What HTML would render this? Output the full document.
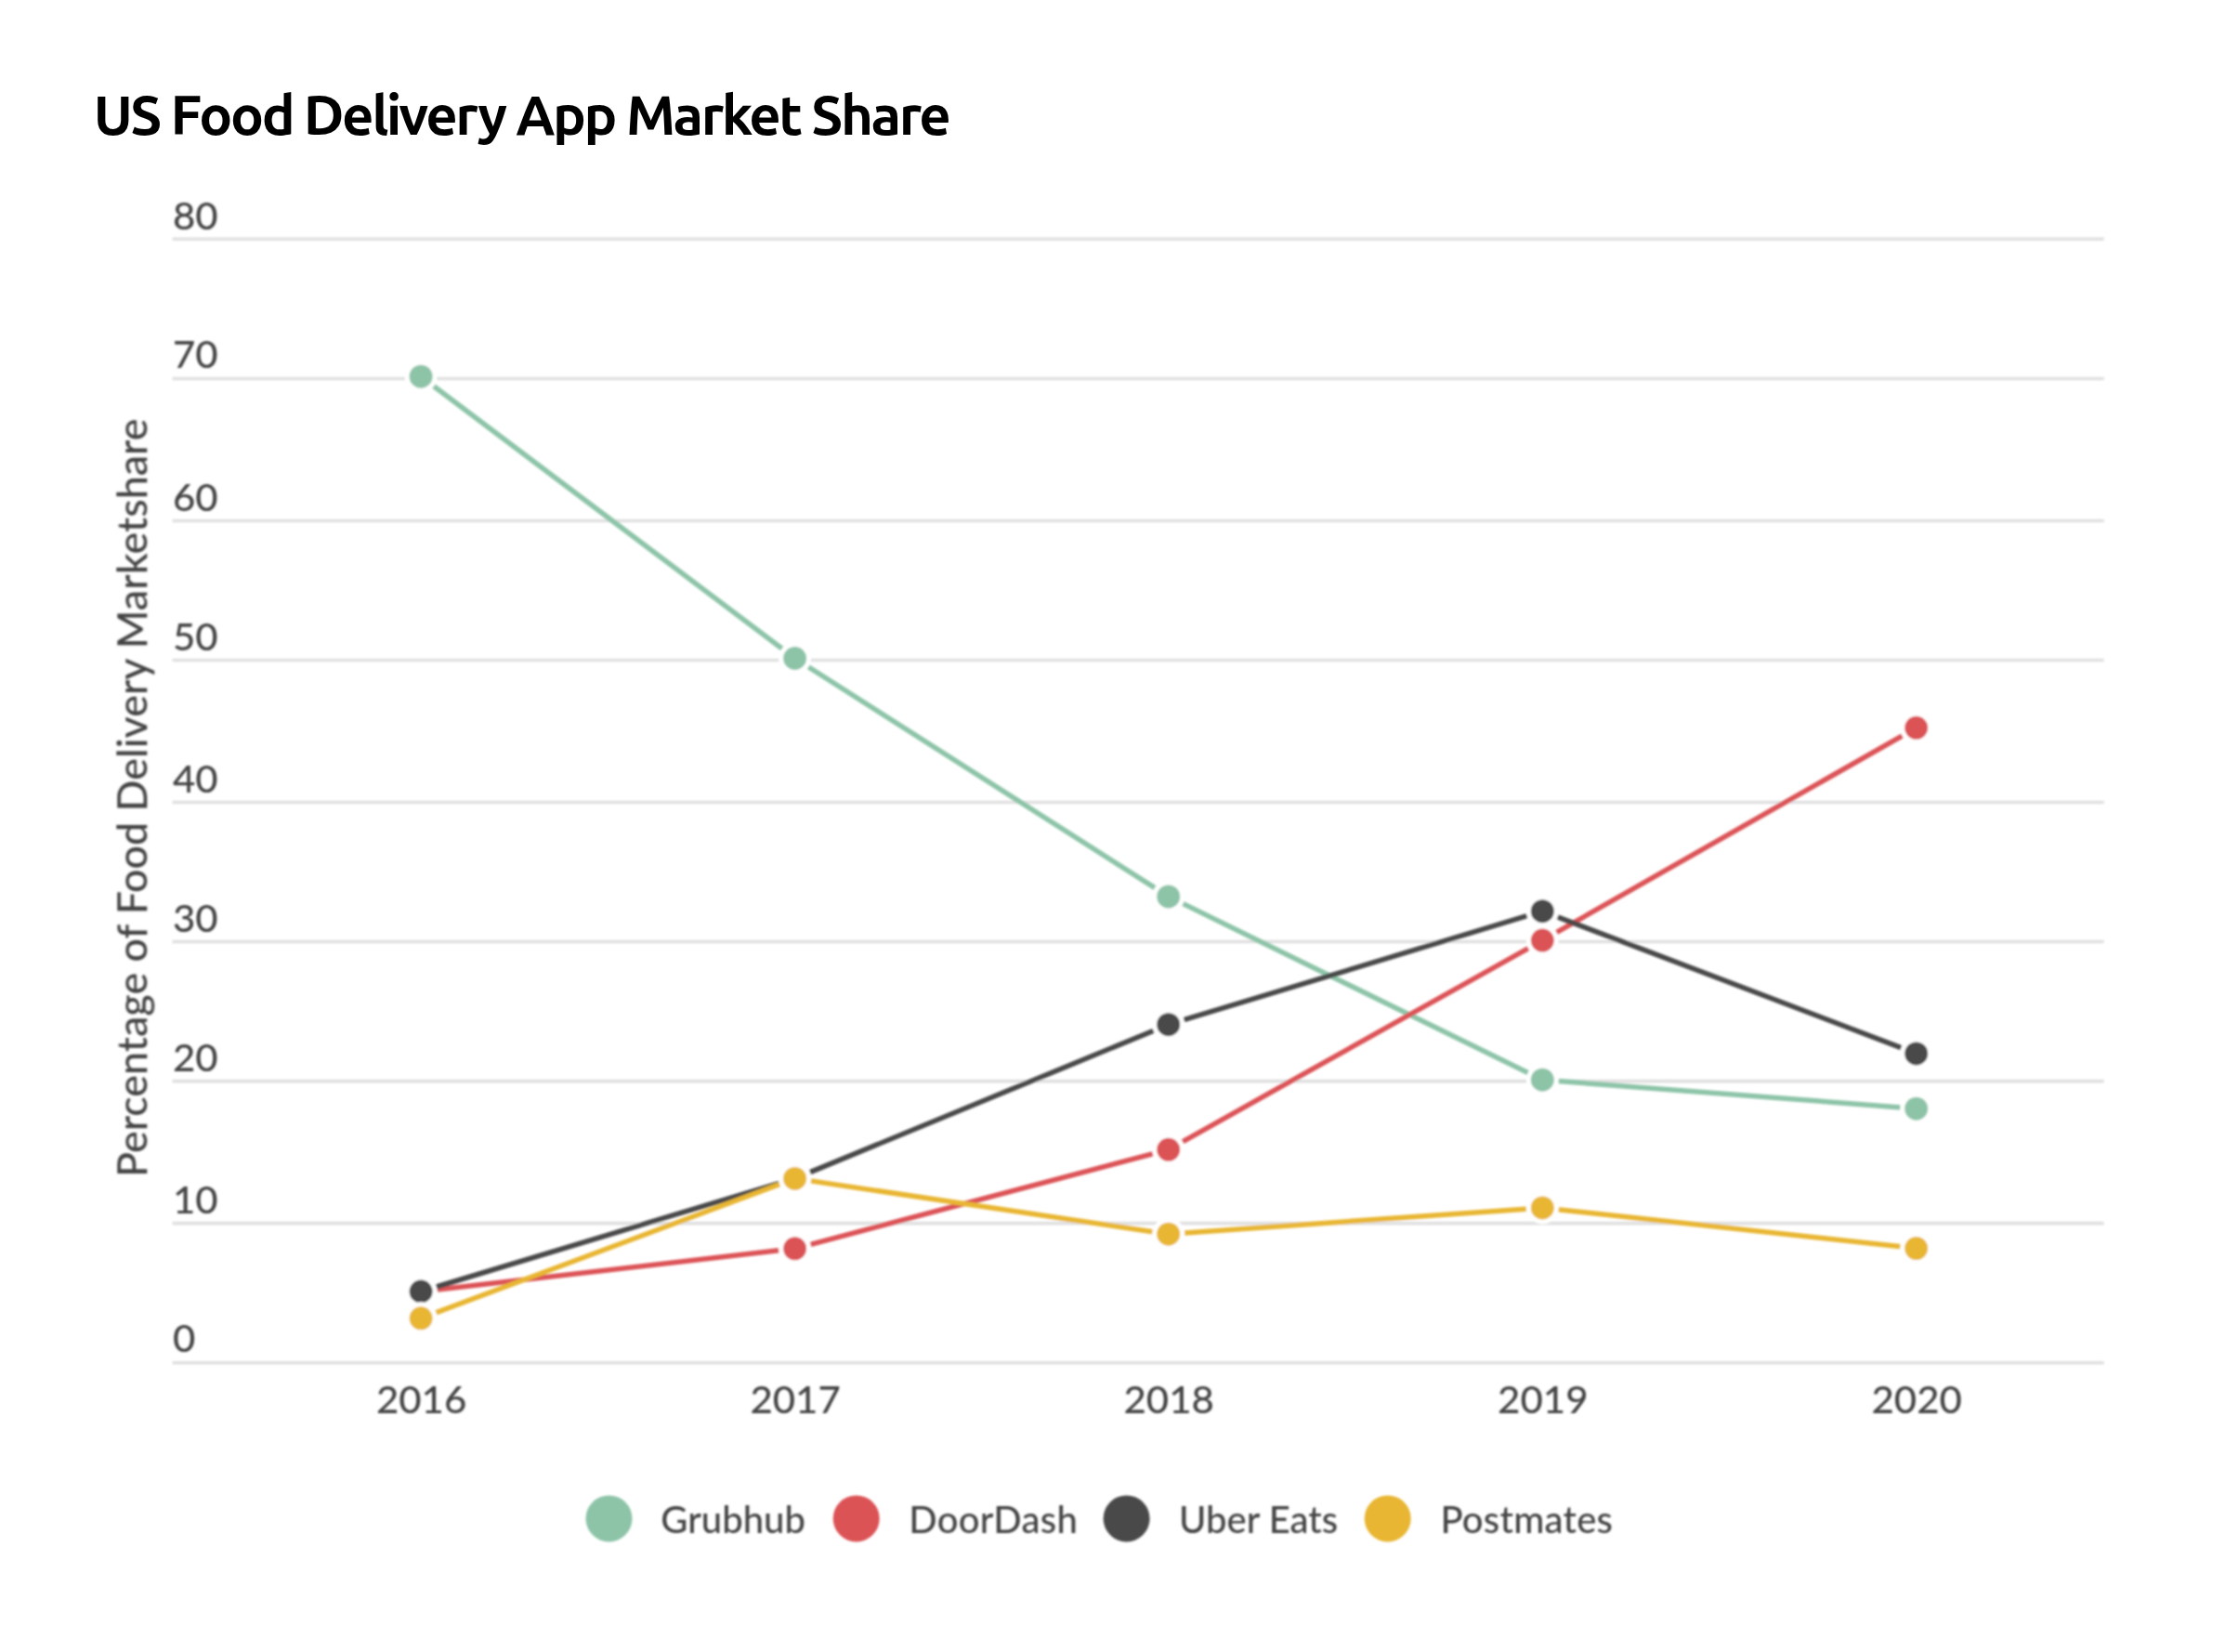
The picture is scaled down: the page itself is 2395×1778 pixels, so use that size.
<!DOCTYPE html>
<html><head><meta charset="utf-8"><title>US Food Delivery App Market Share</title>
<style>
html,body{margin:0;padding:0;background:#fff;}
body{width:2395px;height:1778px;overflow:hidden;}
svg{display:block;}
.ax{font-family:Lato,'Liberation Sans',sans-serif;font-weight:500;font-size:40px;fill:#444444;}
.yt{font-family:Lato,'Liberation Sans',sans-serif;font-weight:500;font-size:44.8px;fill:#444444;}
.lg{font-family:Lato,'Liberation Sans',sans-serif;font-weight:500;font-size:40px;fill:#444444;}
</style></head>
<body>
<svg width="2395" height="1778" viewBox="0 0 2395 1778">
<text x="100.7" y="145" font-family="Ubuntu, 'Liberation Sans', sans-serif" font-weight="700" font-size="60" textLength="923.2" lengthAdjust="spacing" fill="#000">US Food Delivery App Market Share</text>
<defs><filter id="bl" x="-2%" y="-2%" width="104%" height="104%"><feGaussianBlur stdDeviation="0.9"/></filter></defs><g filter="url(#bl)">
<line x1="185.5" y1="257.3" x2="2264.7" y2="257.3" stroke="#e0e0e0" stroke-width="3.6"/>
<line x1="185.5" y1="407.5" x2="2264.7" y2="407.5" stroke="#e0e0e0" stroke-width="3.6"/>
<line x1="185.5" y1="560.5" x2="2264.7" y2="560.5" stroke="#e0e0e0" stroke-width="3.6"/>
<line x1="185.5" y1="710.5" x2="2264.7" y2="710.5" stroke="#e0e0e0" stroke-width="3.6"/>
<line x1="185.5" y1="863.5" x2="2264.7" y2="863.5" stroke="#e0e0e0" stroke-width="3.6"/>
<line x1="185.5" y1="1013.5" x2="2264.7" y2="1013.5" stroke="#e0e0e0" stroke-width="3.6"/>
<line x1="185.5" y1="1163.6" x2="2264.7" y2="1163.6" stroke="#e0e0e0" stroke-width="3.6"/>
<line x1="185.5" y1="1316.6" x2="2264.7" y2="1316.6" stroke="#e0e0e0" stroke-width="3.6"/>
<line x1="185.5" y1="1466.8" x2="2264.7" y2="1466.8" stroke="#e0e0e0" stroke-width="3.6"/>
<text transform="translate(186 246.5) scale(1.05 1)" class="ax" textLength="46.3886" lengthAdjust="spacing">80</text>
<text transform="translate(186 396.0) scale(1.05 1)" class="ax" textLength="46.3886" lengthAdjust="spacing">70</text>
<text transform="translate(186 549.5) scale(1.05 1)" class="ax" textLength="46.3886" lengthAdjust="spacing">60</text>
<text transform="translate(186 699.5) scale(1.05 1)" class="ax" textLength="46.3886" lengthAdjust="spacing">50</text>
<text transform="translate(186 852.5) scale(1.05 1)" class="ax" textLength="46.3886" lengthAdjust="spacing">40</text>
<text transform="translate(186 1002.5) scale(1.05 1)" class="ax" textLength="46.3886" lengthAdjust="spacing">30</text>
<text transform="translate(186 1152.5) scale(1.05 1)" class="ax" textLength="46.3886" lengthAdjust="spacing">20</text>
<text transform="translate(186 1305.5) scale(1.05 1)" class="ax" textLength="46.3886" lengthAdjust="spacing">10</text>
<text transform="translate(186 1455.0) scale(1.05 1)" class="ax" textLength="23.1943" lengthAdjust="spacing">0</text>
<text transform="translate(453.6 1521.3) scale(1.05 1)" class="ax" text-anchor="middle" textLength="92.7773" lengthAdjust="spacing">2016</text>
<text transform="translate(856.1 1521.3) scale(1.05 1)" class="ax" text-anchor="middle" textLength="92.7773" lengthAdjust="spacing">2017</text>
<text transform="translate(1258.2 1521.3) scale(1.05 1)" class="ax" text-anchor="middle" textLength="92.7773" lengthAdjust="spacing">2018</text>
<text transform="translate(1660.8 1521.3) scale(1.05 1)" class="ax" text-anchor="middle" textLength="92.7773" lengthAdjust="spacing">2019</text>
<text transform="translate(2063.2 1521.3) scale(1.05 1)" class="ax" text-anchor="middle" textLength="92.7773" lengthAdjust="spacing">2020</text>
<text transform="translate(158.3 1267) rotate(-90)" class="yt" textLength="816.4" lengthAdjust="spacing">Percentage of Food Delivery Marketshare</text>
<polyline points="453.1,405.2 855.6,708.5 1257.7,964.9 1660.3,1162.2 2062.7,1193.2" fill="none" stroke="#8dc4a8" stroke-width="5.5" stroke-linejoin="round" stroke-linecap="round"/>
<circle cx="453.1" cy="405.2" r="15" fill="#8dc4a8" stroke="#fff" stroke-width="5"/>
<circle cx="855.6" cy="708.5" r="15" fill="#8dc4a8" stroke="#fff" stroke-width="5"/>
<circle cx="1257.7" cy="964.9" r="15" fill="#8dc4a8" stroke="#fff" stroke-width="5"/>
<circle cx="1660.3" cy="1162.2" r="15" fill="#8dc4a8" stroke="#fff" stroke-width="5"/>
<circle cx="2062.7" cy="1193.2" r="15" fill="#8dc4a8" stroke="#fff" stroke-width="5"/>
<polyline points="453.1,1390.0 855.6,1343.8 1257.7,1237.3 1660.3,1012.1 2062.7,783.3" fill="none" stroke="#dc5257" stroke-width="5.5" stroke-linejoin="round" stroke-linecap="round"/>
<circle cx="453.1" cy="1390.0" r="15" fill="#dc5257" stroke="#fff" stroke-width="5"/>
<circle cx="855.6" cy="1343.8" r="15" fill="#dc5257" stroke="#fff" stroke-width="5"/>
<circle cx="1257.7" cy="1237.3" r="15" fill="#dc5257" stroke="#fff" stroke-width="5"/>
<circle cx="1660.3" cy="1012.1" r="15" fill="#dc5257" stroke="#fff" stroke-width="5"/>
<circle cx="2062.7" cy="783.3" r="15" fill="#dc5257" stroke="#fff" stroke-width="5"/>
<polyline points="453.1,1390.0 855.6,1268.4 1257.7,1102.7 1660.3,980.7 2062.7,1133.9" fill="none" stroke="#484848" stroke-width="5.5" stroke-linejoin="round" stroke-linecap="round"/>
<circle cx="453.1" cy="1390.0" r="15" fill="#484848" stroke="#fff" stroke-width="5"/>
<circle cx="855.6" cy="1268.4" r="15" fill="#484848" stroke="#fff" stroke-width="5"/>
<circle cx="1257.7" cy="1102.7" r="15" fill="#484848" stroke="#fff" stroke-width="5"/>
<circle cx="1660.3" cy="980.7" r="15" fill="#484848" stroke="#fff" stroke-width="5"/>
<circle cx="2062.7" cy="1133.9" r="15" fill="#484848" stroke="#fff" stroke-width="5"/>
<polyline points="453.1,1418.8 855.6,1268.4 1257.7,1328.2 1660.3,1299.9 2062.7,1343.6" fill="none" stroke="#e8b632" stroke-width="5.5" stroke-linejoin="round" stroke-linecap="round"/>
<circle cx="453.1" cy="1418.8" r="15" fill="#e8b632" stroke="#fff" stroke-width="5"/>
<circle cx="855.6" cy="1268.4" r="15" fill="#e8b632" stroke="#fff" stroke-width="5"/>
<circle cx="1257.7" cy="1328.2" r="15" fill="#e8b632" stroke="#fff" stroke-width="5"/>
<circle cx="1660.3" cy="1299.9" r="15" fill="#e8b632" stroke="#fff" stroke-width="5"/>
<circle cx="2062.7" cy="1343.6" r="15" fill="#e8b632" stroke="#fff" stroke-width="5"/>
<circle cx="655.5" cy="1634.4" r="25" fill="#8dc4a8"/>
<text x="711.3" y="1650.4" class="lg" textLength="155.59" lengthAdjust="spacing">Grubhub</text>
<circle cx="921.7" cy="1634.4" r="25" fill="#dc5257"/>
<text x="978.2" y="1650.4" class="lg" textLength="181.7" lengthAdjust="spacing">DoorDash</text>
<circle cx="1212.6" cy="1634.4" r="25" fill="#484848"/>
<text x="1269.0" y="1650.4" class="lg" textLength="171.17" lengthAdjust="spacing">Uber Eats</text>
<circle cx="1493.7" cy="1634.4" r="25" fill="#e8b632"/>
<text x="1550.4" y="1650.4" class="lg" textLength="185.6" lengthAdjust="spacing">Postmates</text>
</g>
</svg>
</body></html>
